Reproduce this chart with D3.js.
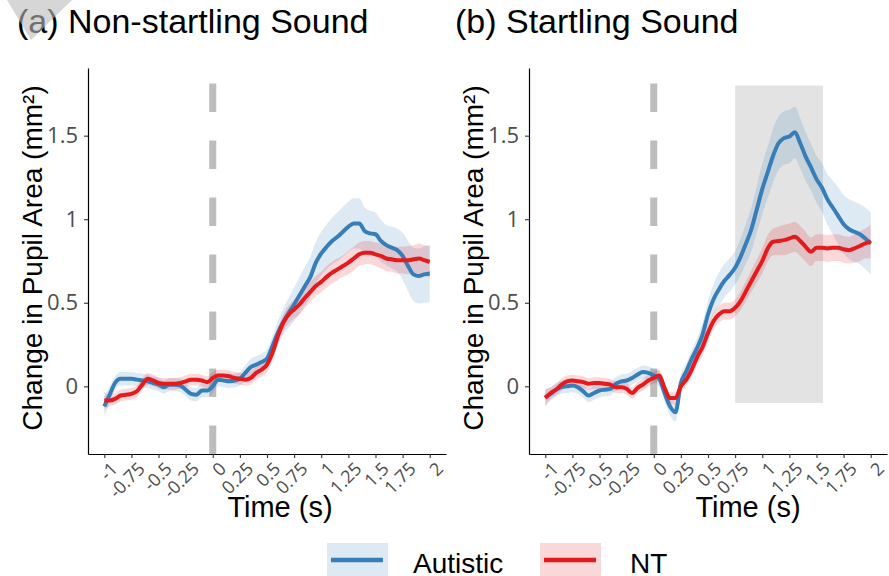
<!DOCTYPE html>
<html>
<head>
<meta charset="utf-8">
<script src="https://cdn.jsdelivr.net/npm/d3@7"></script>
<style>
  body { margin: 0; background: #fff; }
  text { font-family: "Liberation Sans", Arial, sans-serif; }
</style>
</head>
<body>
<script>
// sample times (s), one value every 0.05 s
var time = [-1,-0.95,-0.9,-0.85,-0.8,-0.75,-0.7,-0.65,-0.6,-0.55,
            -0.5,-0.45,-0.4,-0.35,-0.3,-0.25,-0.2,-0.15,-0.1,-0.05,
            0,0.05,0.1,0.15,0.2,0.25,0.3,0.35,0.4,0.45,
            0.5,0.55,0.6,0.65,0.7,0.75,0.8,0.85,0.9,0.95,
            1,1.05,1.1,1.15,1.2,1.25,1.3,1.35,1.4,1.45,
            1.5,1.55,1.6,1.65,1.7,1.75,1.8,1.85,1.9,1.95,
            2];

// (a) non-startling sound
var autisticA = [-0.12,-0.05,0.02,0.045,0.045,0.045,0.04,0.035,0.03,0.02,
                 0.01,-0.005,0.01,0.01,0.005,-0.02,-0.045,-0.05,-0.025,-0.025,
                 0.0,0.04,0.035,0.03,0.035,0.045,0.08,0.115,0.13,0.145,
                 0.165,0.24,0.32,0.385,0.44,0.49,0.545,0.60,0.655,0.74,
                 0.795,0.835,0.87,0.895,0.925,0.955,0.975,0.975,0.93,0.915,
                 0.91,0.87,0.845,0.83,0.815,0.78,0.72,0.67,0.66,0.67,
                 0.675];
var ntA = [-0.085,-0.085,-0.075,-0.055,-0.05,-0.045,-0.03,0.01,0.045,0.035,
           0.02,0.015,0.015,0.015,0.02,0.03,0.04,0.04,0.035,0.025,
           0.05,0.065,0.065,0.06,0.05,0.045,0.04,0.05,0.08,0.10,
           0.13,0.20,0.30,0.38,0.43,0.46,0.49,0.53,0.565,0.60,
           0.625,0.655,0.68,0.70,0.72,0.74,0.765,0.79,0.80,0.80,
           0.79,0.78,0.765,0.76,0.755,0.755,0.755,0.76,0.765,0.755,
           0.745];
var autisticSeA = [0.06,0.05,0.04,0.04,0.04,0.04,0.04,0.04,0.04,0.04,
                   0.04,0.04,0.04,0.04,0.04,0.04,0.04,0.04,0.04,0.04,
                   0.04,0.04,0.04,0.04,0.04,0.04,0.045,0.05,0.05,0.05,
                   0.055,0.06,0.07,0.08,0.09,0.10,0.11,0.115,0.12,0.125,
                   0.13,0.135,0.14,0.145,0.15,0.15,0.15,0.15,0.14,0.135,
                   0.13,0.125,0.12,0.125,0.13,0.14,0.15,0.16,0.165,0.17,
                   0.17];
var ntSeA = [0.05,0.035,0.035,0.035,0.035,0.035,0.035,0.035,0.035,0.035,
             0.035,0.035,0.035,0.035,0.035,0.035,0.035,0.035,0.035,0.035,
             0.035,0.035,0.035,0.035,0.035,0.035,0.035,0.04,0.04,0.045,
             0.045,0.05,0.05,0.05,0.055,0.055,0.06,0.06,0.06,0.06,
             0.06,0.065,0.065,0.065,0.065,0.07,0.07,0.07,0.07,0.07,
             0.07,0.075,0.075,0.075,0.08,0.08,0.085,0.085,0.09,0.09,
             0.095];

// (b) startling sound
var autisticB = [-0.065,-0.045,-0.02,-0.005,0.0,0.005,-0.005,-0.03,-0.055,-0.04,
                 -0.025,-0.02,-0.015,0.015,0.03,0.035,0.05,0.07,0.085,0.08,
                 0.065,0.045,-0.04,-0.12,-0.155,0.02,0.09,0.165,0.23,0.31,
                 0.43,0.52,0.58,0.63,0.667,0.71,0.775,0.855,0.94,1.06,
                 1.18,1.28,1.38,1.455,1.485,1.495,1.52,1.455,1.375,1.31,
                 1.24,1.19,1.12,1.07,1.02,0.97,0.94,0.925,0.91,0.885,
                 0.855];
var ntB = [-0.07,-0.04,-0.02,0.01,0.03,0.035,0.03,0.025,0.015,0.02,
           0.02,0.015,0.01,-0.005,-0.005,-0.015,-0.04,-0.01,0.01,0.035,
           0.05,0.065,-0.01,-0.07,-0.07,0.0,0.04,0.10,0.175,0.235,
           0.32,0.39,0.43,0.45,0.45,0.47,0.51,0.57,0.63,0.69,
           0.75,0.825,0.865,0.87,0.875,0.885,0.895,0.87,0.835,0.805,
           0.83,0.83,0.825,0.83,0.83,0.82,0.815,0.825,0.84,0.855,
           0.865];
var autisticSeB = [0.05,0.04,0.04,0.04,0.04,0.04,0.04,0.04,0.04,0.04,
                   0.04,0.04,0.04,0.04,0.04,0.04,0.04,0.04,0.04,0.04,
                   0.04,0.045,0.05,0.055,0.055,0.05,0.05,0.055,0.06,0.07,
                   0.08,0.09,0.10,0.10,0.10,0.10,0.11,0.12,0.13,0.14,
                   0.15,0.155,0.16,0.16,0.16,0.16,0.155,0.15,0.145,0.14,
                   0.14,0.145,0.15,0.16,0.17,0.175,0.18,0.18,0.18,0.185,
                   0.185];
var ntSeB = [0.05,0.035,0.035,0.035,0.035,0.035,0.035,0.035,0.035,0.035,
             0.035,0.035,0.035,0.035,0.035,0.035,0.035,0.035,0.035,0.035,
             0.035,0.035,0.035,0.035,0.035,0.035,0.035,0.04,0.045,0.05,
             0.05,0.05,0.05,0.05,0.05,0.05,0.055,0.06,0.065,0.07,
             0.075,0.08,0.08,0.085,0.09,0.09,0.09,0.09,0.09,0.085,
             0.08,0.08,0.08,0.08,0.08,0.08,0.08,0.085,0.09,0.09,
             0.1];

var xTicks = [-1,-0.75,-0.5,-0.25,0,0.25,0.5,0.75,1,1.25,1.5,1.75,2];
var yTicks = [0,0.5,1,1.5];
var shadeTime = [0.75, 1.56];   // significant window in (b)
var shadeValue = [-0.1, 1.8];
var groups = ["Autistic", "NT"];
var colors = {"Autistic": "#377EB8", "NT": "#E41A1C"};

var svg = d3.select("body").append("svg")
    .attr("width", 889)
    .attr("height", 576);

var plotTop = 68, plotBottom = 454, plotW = 358;
var y = d3.scaleLinear().domain([-0.405, 1.905]).range([plotBottom, plotTop]);

var panels = [
  {title: "(a) Non-startling Sound", titleX: 17, left: 88, xTitleX: 280,
   series: {"Autistic": [autisticA, autisticSeA], "NT": [ntA, ntSeA]}, shade: false},
  {title: "(b) Startling Sound", titleX: 455, left: 529, xTitleX: 748,
   series: {"Autistic": [autisticB, autisticSeB], "NT": [ntB, ntSeB]}, shade: true}
];

panels.forEach(function (p) {
  var x = d3.scaleLinear().domain([-1.15, 2.15]).range([p.left, p.left + plotW]);
  var g = svg.append("g");

  // onset marker
  g.append("line")
      .attr("x1", x(0)).attr("x2", x(0))
      .attr("y1", plotBottom).attr("y2", plotTop)
      .attr("stroke", "#bdbdbd")
      .attr("stroke-width", 7)
      .attr("stroke-dasharray", "28.5 28.5");

  if (p.shade) {
    g.append("rect")
        .attr("x", x(shadeTime[0]))
        .attr("width", x(shadeTime[1]) - x(shadeTime[0]))
        .attr("y", y(shadeValue[1]))
        .attr("height", y(shadeValue[0]) - y(shadeValue[1]))
        .attr("fill", "#e3e3e3");
  }

  groups.forEach(function (name) {
    var mean = p.series[name][0], se = p.series[name][1];
    var pts = time.map(function (t, i) { return {t: t, m: mean[i], s: se[i]}; });
    var area = d3.area()
        .x(function (d) { return x(d.t); })
        .y0(function (d) { return y(d.m - d.s); })
        .y1(function (d) { return y(d.m + d.s); })
        .curve(d3.curveMonotoneX);
    g.append("path").datum(pts)
        .attr("d", area)
        .attr("fill", colors[name])
        .attr("fill-opacity", 0.17);
  });

  groups.forEach(function (name) {
    var mean = p.series[name][0];
    var pts = time.map(function (t, i) { return {t: t, m: mean[i]}; });
    var line = d3.line()
        .x(function (d) { return x(d.t); })
        .y(function (d) { return y(d.m); })
        .curve(d3.curveMonotoneX);
    g.append("path").datum(pts)
        .attr("d", line)
        .attr("fill", "none")
        .attr("stroke", colors[name])
        .attr("stroke-width", 4)
        .attr("stroke-linejoin", "round");
  });

  // axes
  var ya = g.append("g")
      .attr("transform", "translate(" + p.left + ",0)")
      .call(d3.axisLeft(y).tickValues(yTicks).tickSize(4).tickSizeOuter(0)
            .tickPadding(6).tickFormat(function (d) { return String(d); }));
  ya.selectAll("text")
      .style("font-family", "'Open Sans', sans-serif")
      .style("font-size", "22px")
      .attr("fill", "#4d4d4d");

  var xa = g.append("g")
      .attr("transform", "translate(0," + plotBottom + ")")
      .call(d3.axisBottom(x).tickValues(xTicks).tickSize(4).tickSizeOuter(0)
            .tickFormat(function (d) { return String(d); }));
  xa.selectAll("text")
      .attr("x", 0).attr("y", 0).attr("dy", "0.71em")
      .attr("text-anchor", "end")
      .attr("transform", "translate(5,7) rotate(-45)")
      .style("font-family", "'Open Sans', sans-serif")
      .style("font-size", "18px")
      .attr("fill", "#4d4d4d");

  [ya, xa].forEach(function (a) {
    a.select(".domain").attr("stroke", "#000").attr("stroke-width", 1.2);
    a.selectAll(".tick line").attr("stroke", "#333").attr("stroke-width", 1.1);
  });

  // titles
  svg.append("text")
      .attr("x", p.titleX).attr("y", 33)
      .style("font-size", "34px")
      .text(p.title);

  svg.append("text")
      .attr("transform", "translate(" + (p.left - 46) + ",258) rotate(-90)")
      .attr("text-anchor", "middle")
      .style("font-size", "28px")
      .text("Change in Pupil Area (mm\u00B2)");

  svg.append("text")
      .attr("x", p.xTitleX).attr("y", 517)
      .attr("text-anchor", "middle")
      .style("font-size", "29px")
      .text("Time (s)");
});

// legend
var legendX = {"Autistic": 327, "NT": 540};
groups.forEach(function (name) {
  var lg = svg.append("g").attr("transform", "translate(" + legendX[name] + ",543)");
  lg.append("rect")
      .attr("width", 61).attr("height", 34)
      .attr("fill", colors[name]).attr("fill-opacity", 0.17);
  lg.append("line")
      .attr("x1", 4).attr("x2", 56)
      .attr("y1", 17).attr("y2", 17)
      .attr("stroke", colors[name]).attr("stroke-width", 4.5);
  lg.append("text")
      .attr("x", name === "NT" ? 90 : 86).attr("y", 30)
      .style("font-size", "28px")
      .text(name);
});

// faint grey mark in the corner of the source image
svg.append("path")
    .attr("d", "M7,0L72,0L31,40Z")
    .attr("fill", "#bbb")
    .attr("fill-opacity", 0.6);
</script>
</body>
</html>
